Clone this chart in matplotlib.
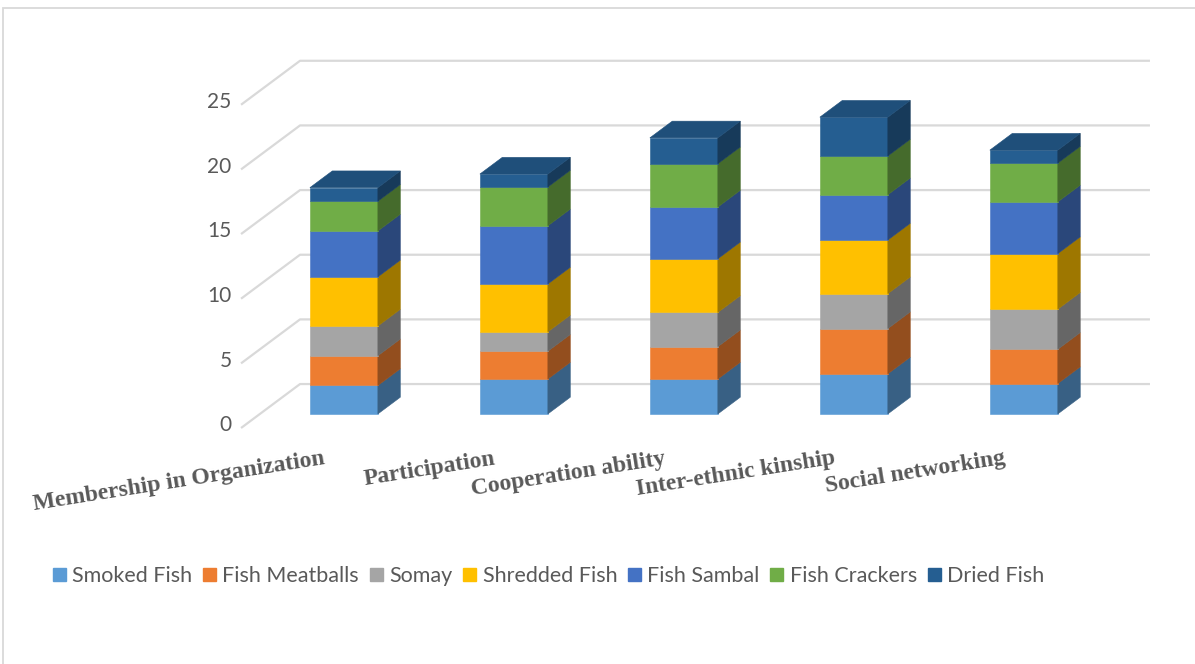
import matplotlib
matplotlib.use("Agg")
import matplotlib.pyplot as plt
from matplotlib.patches import Polygon, Rectangle, Patch
import numpy as np

# categories and stacked series (values read per segment)
categories = ["Membership in Organization", "Participation", "Cooperation ability",
              "Inter-ethnic kinship", "Social networking"]
series_names = ["Smoked Fish", "Fish Meatballs", "Somay", "Shredded Fish",
                "Fish Sambal", "Fish Crackers", "Dried Fish"]
smoked_fish = [2.2, 2.7, 2.7, 3.1, 2.35]
fish_meatballs = [2.3, 2.15, 2.5, 3.5, 2.65]
somay = [2.3, 1.5, 2.65, 2.7, 3.1]
shredded_fish = [3.8, 3.7, 4.15, 4.15, 4.3]
fish_sambal = [3.55, 4.5, 4.0, 3.5, 4.0]
fish_crackers = [2.3, 3.0, 3.35, 3.0, 3.0]
dried_fish = [1.05, 1.0, 2.0, 3.0, 1.0]
yticks = [0, 5, 10, 15, 20, 25]

colors = ["#5B9BD5", "#ED7D31", "#A5A5A5", "#FFC000", "#4472C4", "#70AD47", "#255E91"]


def shade(c, f):
    rgb = np.array(matplotlib.colors.to_rgb(c))
    return tuple(rgb * f)


W, H = 1195, 664
fig = plt.figure(figsize=(W / 100, H / 100), dpi=100)
ax = fig.add_axes([0, 0, 1, 1])
ax.set_xlim(-1.912, 5.118)
ax.set_ylim(-18.25, 33.1)
ax.axis("off")

# oblique depth of the floor (category units, value units)
DX, DY = 0.347, 3.40
x_left, x_right = -0.494, 4.853
grid_c = "#d9d9d9"

for v in yticks:
    ax.plot([x_left, x_left + DX, x_right], [v, v + DY, v + DY],
            color=grid_c, lw=1.6, zorder=1, solid_capstyle="butt")
    ax.text(x_left - 0.055, v + 0.2, str(v), ha="right", va="center",
            fontsize=15, color="#595959", family="Lato")

# 3D stacked columns
data = np.array([smoked_fish, fish_meatballs, somay, shredded_fish,
                 fish_sambal, fish_crackers, dried_fish])
z0, z1 = 0.32, 0.70
bw = 0.4
dx, dy = DX * (z1 - z0), DY * (z1 - z0)
for i in range(len(categories)):
    xl = i + DX * z0 - bw / 2
    xr = xl + bw
    bottom = DY * z0
    for k in range(len(series_names)):
        top = bottom + data[k, i]
        c = colors[k]
        ax.add_patch(Polygon([(xl, bottom), (xr, bottom), (xr, top), (xl, top)],
                             closed=True, fc=c, ec=c, lw=0.4, zorder=3))
        sc = shade(c, 0.62)
        ax.add_patch(Polygon([(xr, bottom), (xr + dx, bottom + dy),
                              (xr + dx, top + dy), (xr, top)],
                             closed=True, fc=sc, ec=sc, lw=0.4, zorder=3))
        bottom = top
    tc = shade(colors[-1], 0.84)
    ax.add_patch(Polygon([(xl, bottom), (xr, bottom), (xr + dx, bottom + dy),
                          (xl + dx, bottom + dy)],
                         closed=True, fc=tc, ec=tc, lw=0.4, zorder=3))

# category labels
for i, lab in enumerate(categories):
    ax.text(i + 0.005, -2.78, lab, ha="right", va="baseline", rotation=9,
            rotation_mode="anchor", fontsize=17, fontweight="bold",
            color="#595959", family="Liberation Serif")

handles = [Patch(facecolor=c, edgecolor=c) for c in colors]
fig.legend(handles, series_names, loc="center", bbox_to_anchor=(0.459, 0.1325),
           ncol=7, frameon=False, handlelength=0.6, handleheight=0.6,
           handletextpad=0.3, columnspacing=0.5,
           prop={"family": "Lato", "size": 15.5}, labelcolor="#595959")

# chart frame and the clipped caption above it
fig.patches.append(Rectangle((3 / W, -0.02), 1.2, 1.02 - 8 / H, transform=fig.transFigure,
                             fill=False, ec=grid_c, lw=1.3))
fig.text(295 / W, 1 + 8 / H, "Figure 3 Condition of Human Capital availability",
         ha="left", va="baseline", fontsize=16, fontweight="bold",
         family="Liberation Serif", color="black")

fig.savefig("out.png", dpi=100)
